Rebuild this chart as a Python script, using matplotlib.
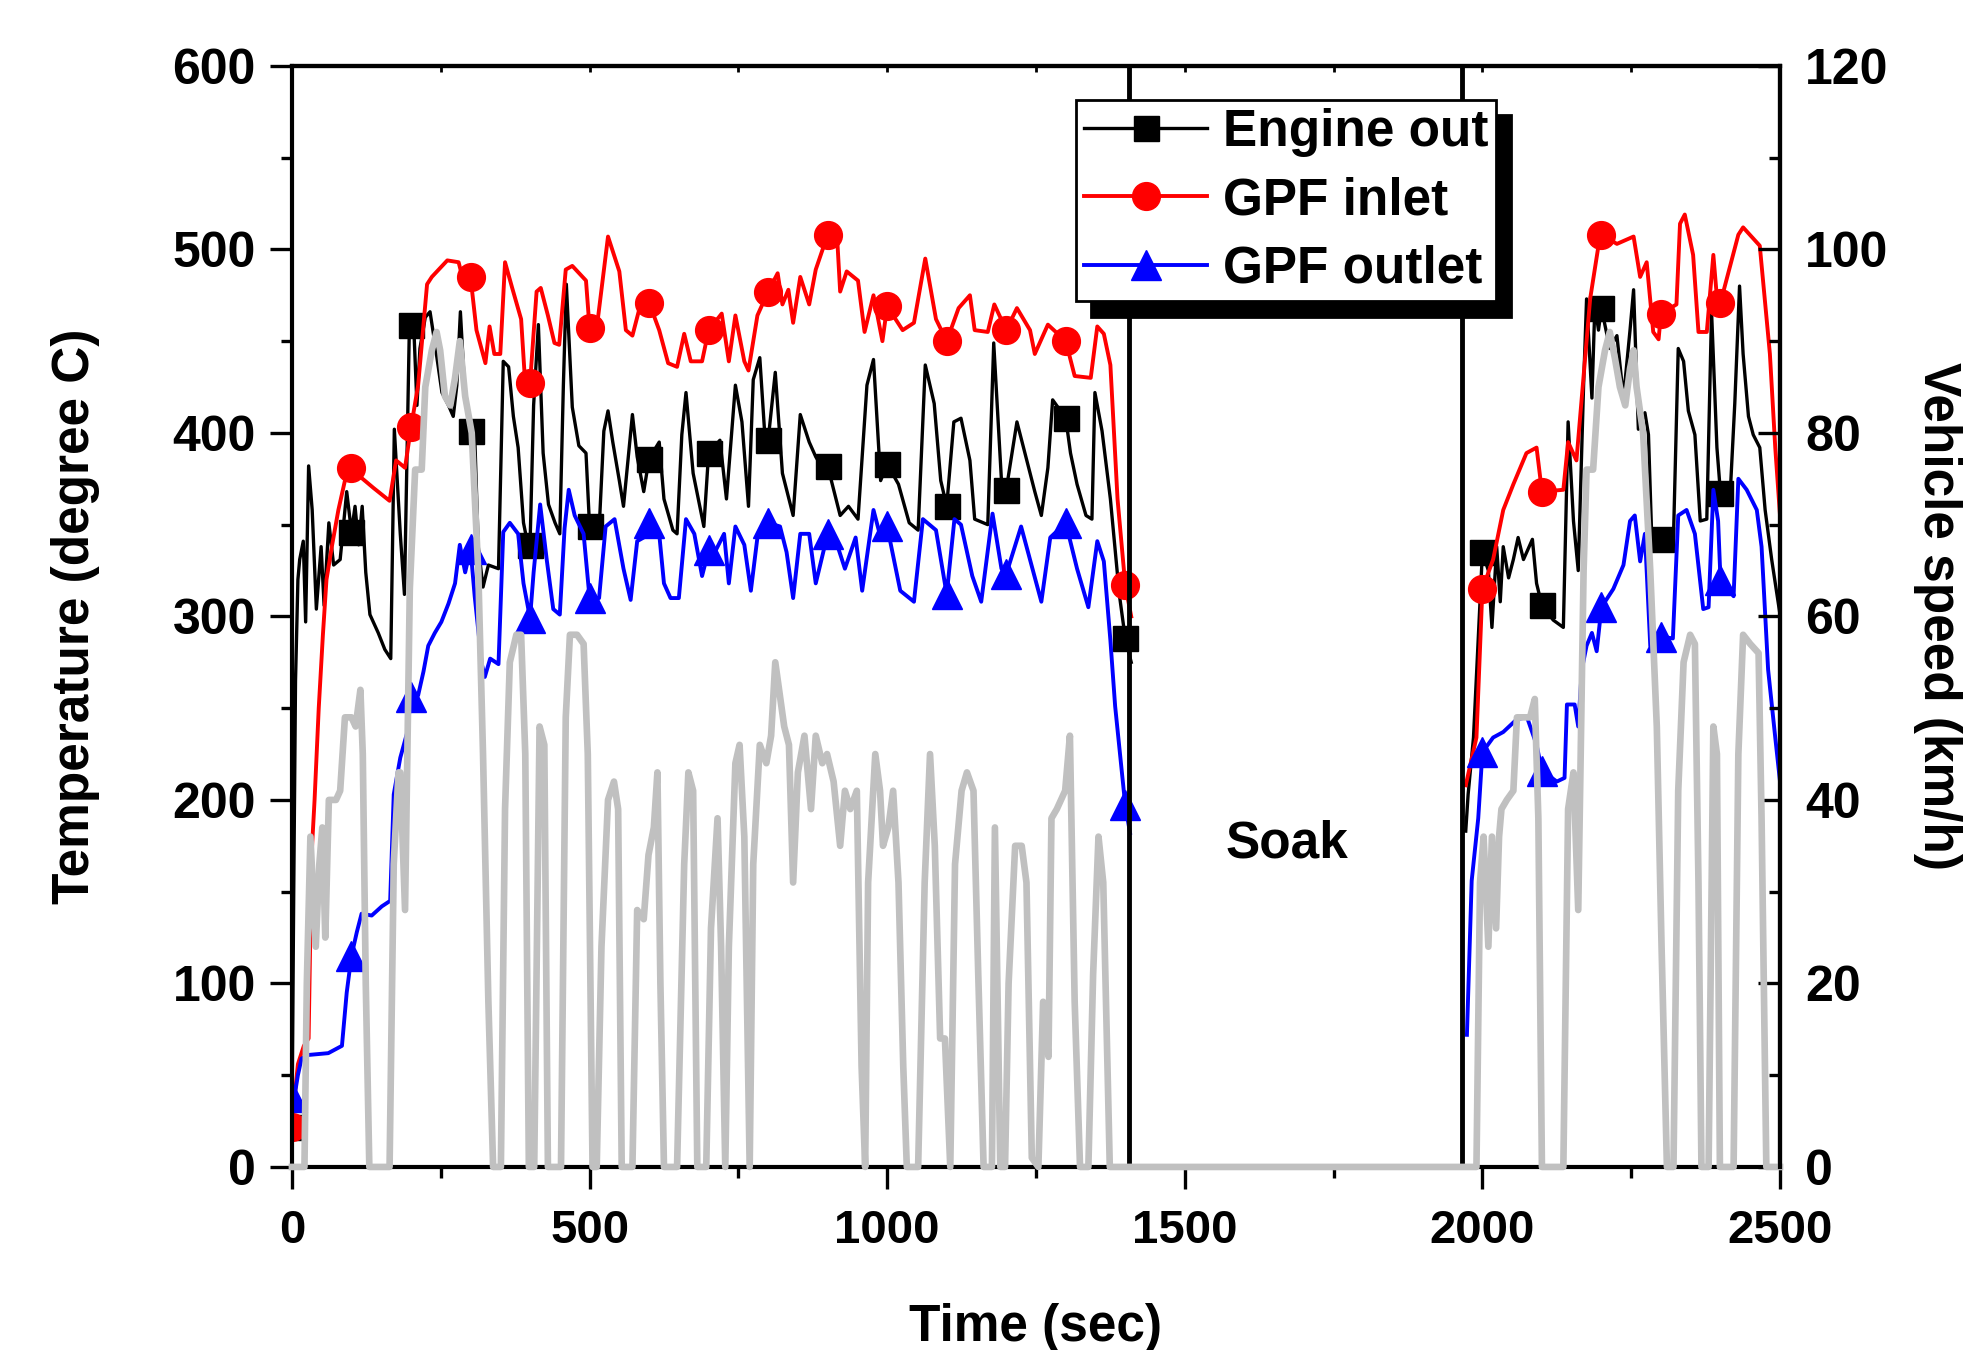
"""
GPF 온도 / 차속 (FTP-75) 재현
"""
import numpy as np
import matplotlib
matplotlib.use("Agg")
import matplotlib.pyplot as plt
from matplotlib.lines import Line2D
from matplotlib.ticker import MultipleLocator

plt.rcParams["font.family"] = ["Liberation Sans", "DejaVu Sans"]
plt.rcParams["font.weight"] = "bold"
plt.rcParams["axes.labelweight"] = "bold"

nan = np.nan

# ── 마커 위치 / soak 구간 ──────────────────────────────
MARK_TIMES = [0, 100, 200, 300, 400, 500, 600, 700, 800, 900, 1000, 1100,
              1200, 1300, 1400, 2000, 2100, 2200, 2300, 2400]
SOAK_START = 1407
SOAK_END = 1966
SOAK_LABEL_POS = (1672, 176)

# ── Engine out (degree C) ──────────────────────────────
engine_t = [0, 3, 6, 10, 13, 19, 23, 28, 34, 41, 49, 54, 62, 70, 81, 92, 100,
            106, 112, 118, 124, 131, 145, 156, 166, 172, 182, 189, 197, 200,
            204, 210, 215, 224, 232, 240, 252, 263, 271, 277, 283, 291, 300,
            307, 313, 321, 330, 347, 355, 364, 372, 380, 389, 397, 400, 406,
            414, 422, 431, 442, 450, 456, 461, 471, 482, 494, 500, 516, 524,
            531, 539, 550, 557, 572, 580, 591, 600, 617, 625, 640, 647, 655,
            662, 674, 692, 700, 719, 730, 745, 756, 767, 775, 786, 794, 800,
            812, 824, 842, 854, 869, 880, 891, 900, 921, 935, 951, 966, 977,
            989, 1000, 1019, 1037, 1052, 1064, 1079, 1090, 1100, 1112, 1124,
            1139, 1147, 1169, 1179, 1192, 1200, 1218, 1233, 1248, 1259, 1270,
            1278, 1300, 1308, 1319, 1334, 1344, 1349, 1361, 1375, 1390, 1400,
            1410, 1690, 1972, 1976, 1985, 2000, 2010, 2016, 2024, 2030, 2035,
            2044, 2052, 2060, 2069, 2084, 2091, 2100, 2119, 2136, 2144, 2153,
            2161, 2170, 2175, 2184, 2189, 2195, 2200, 2214, 2226, 2237, 2248,
            2254, 2262, 2273, 2279, 2284, 2296, 2300, 2321, 2329, 2338, 2346,
            2357, 2366, 2377, 2385, 2394, 2400, 2416, 2424, 2432, 2438, 2447,
            2455, 2466, 2475, 2486, 2500]
engine_T = [22, 150, 265, 320, 331, 341, 297, 382, 358, 304, 338, 306, 351,
            328, 331, 368, 346, 360, 339, 360, 324, 301, 291, 282, 277, 402,
            345, 312, 453, 459, 463, 415, 446, 463, 466, 449, 422, 415, 409,
            426, 466, 419, 401, 399, 338, 316, 328, 326, 439, 436, 409, 392,
            351, 338, 339, 415, 459, 389, 361, 351, 345, 426, 481, 414, 393,
            389, 349, 347, 401, 412, 395, 374, 360, 410, 387, 368, 386, 395,
            364, 347, 345, 399, 422, 378, 349, 389, 396, 364, 426, 406, 360,
            429, 441, 401, 396, 433, 378, 355, 410, 395, 387, 381, 382, 355,
            360, 353, 426, 440, 374, 383, 372, 351, 347, 437, 416, 374, 360,
            406, 408, 385, 353, 350, 449, 374, 369, 406, 387, 368, 355, 381,
            418, 408, 389, 372, 355, 353, 422, 401, 364, 312, 288, 275, nan,
            183, 203, 234, 335, 325, 294, 338, 308, 338, 321, 331, 343, 331,
            342, 318, 306, 298, 294, 406, 352, 325, 426, 473, 419, 470, 456,
            468, 446, 453, 419, 456, 478, 402, 411, 399, 348, 337, 342, 343,
            446, 439, 412, 399, 352, 353, 466, 392, 367, 365, 416, 480, 443,
            409, 399, 392, 358, 331, 301]

# ── GPF inlet (degree C) ───────────────────────────────
inlet_t = [0, 5, 10, 20, 28, 33, 38, 45, 52, 58, 67, 78, 89, 100, 115, 137,
           164, 175, 190, 200, 212, 227, 235, 261, 280, 291, 300, 310, 325,
           332, 340, 350, 358, 370, 385, 392, 400, 411, 418, 430, 441, 449,
           460, 471, 494, 500, 512, 531, 550, 561, 572, 584, 600, 617, 632,
           647, 659, 670, 689, 700, 722, 734, 745, 760, 767, 782, 800, 816,
           824, 834, 842, 854, 869, 880, 900, 916, 921, 932, 951, 962, 977,
           992, 1000, 1026, 1045, 1064, 1082, 1100, 1120, 1139, 1147, 1169,
           1180, 1200, 1218, 1240, 1248, 1270, 1300, 1315, 1342, 1353, 1364,
           1375, 1387, 1400, 1410, 1690, 1972, 1990, 2000, 2018, 2035, 2052,
           2074, 2091, 2100, 2136, 2144, 2158, 2181, 2195, 2200, 2226, 2254,
           2265, 2276, 2287, 2296, 2300, 2326, 2332, 2340, 2354, 2363, 2377,
           2388, 2396, 2400, 2430, 2438, 2466, 2475, 2483, 2492, 2500]
inlet_T = [22, 40, 56, 66, 70, 170, 200, 250, 290, 320, 338, 358, 374, 381,
           376, 370, 363, 385, 381, 403, 426, 481, 485, 494, 493, 479, 485,
           456, 438, 458, 443, 443, 493, 479, 462, 426, 427, 477, 479, 464,
           449, 448, 489, 491, 483, 457, 457, 507, 488, 456, 453, 468, 471,
           456, 438, 436, 454, 439, 439, 456, 465, 439, 464, 439, 434, 464,
           477, 487, 470, 478, 460, 485, 470, 489, 508, 506, 477, 488, 483,
           455, 475, 450, 469, 456, 460, 495, 462, 450, 468, 475, 456, 455,
           470, 456, 468, 456, 443, 459, 450, 431, 430, 458, 454, 437, 364,
           317, 300, nan, 208, 234, 315, 331, 358, 372, 389, 392, 368, 369,
           395, 385, 473, 502, 508, 503, 507, 485, 493, 455, 451, 465, 470,
           514, 519, 497, 455, 455, 497, 466, 471, 508, 512, 502, 471, 443,
           392, 355]

# ── GPF outlet (degree C) ──────────────────────────────
outlet_t = [0, 5, 10, 16, 27, 61, 84, 92, 100, 109, 117, 134, 151, 165, 171,
            182, 193, 200, 212, 221, 229, 240, 251, 263, 274, 282, 291, 300,
            307, 319, 324, 333, 347, 355, 366, 380, 389, 400, 406, 417, 428,
            439, 450, 458, 465, 475, 490, 500, 516, 527, 542, 557, 569, 580,
            591, 600, 617, 625, 636, 650, 662, 676, 689, 700, 712, 726, 734,
            745, 760, 771, 782, 800, 820, 831, 842, 854, 869, 880, 900, 913,
            929, 947, 958, 977, 989, 1000, 1022, 1045, 1060, 1082, 1100, 1113,
            1124, 1143, 1158, 1177, 1192, 1200, 1225, 1244, 1259, 1274, 1300,
            1319, 1338, 1353, 1364, 1375, 1383, 1400, 1408, 1690, 1974, 1982,
            1993, 2000, 2018, 2035, 2058, 2075, 2091, 2100, 2125, 2138, 2142,
            2155, 2161, 2167, 2175, 2184, 2192, 2200, 2220, 2237, 2248, 2256,
            2265, 2273, 2282, 2293, 2300, 2320, 2329, 2343, 2357, 2371, 2380,
            2388, 2396, 2400, 2422, 2430, 2444, 2461, 2469, 2480, 2492, 2500]
outlet_T = [38, 40, 50, 59, 61, 62, 66, 95, 115, 128, 138, 137, 142, 145, 203,
            223, 236, 256, 257, 270, 284, 291, 297, 307, 318, 339, 324, 337,
            311, 274, 267, 277, 274, 346, 351, 345, 318, 299, 324, 361, 331,
            304, 301, 348, 369, 355, 345, 310, 310, 349, 353, 326, 309, 341,
            343, 351, 345, 318, 310, 310, 353, 345, 322, 336, 336, 345, 318,
            349, 339, 314, 343, 351, 349, 335, 310, 345, 345, 318, 345, 342,
            326, 343, 314, 358, 343, 349, 314, 308, 353, 347, 312, 353, 350,
            322, 308, 356, 326, 323, 349, 326, 308, 343, 351, 326, 305, 341,
            330, 287, 251, 197, 182, nan, 72, 156, 190, 226, 234, 237, 244,
            245, 230, 216, 210, 212, 252, 252, 240, 271, 284, 291, 281, 305,
            315, 328, 352, 355, 330, 345, 284, 281, 289, 288, 355, 358, 345,
            304, 305, 369, 352, 320, 311, 375, 369, 358, 338, 271, 234, 210]

# ── Vehicle speed (km/h) ───────────────────────────────
speed_t = [0, 21, 25, 31, 40, 46, 51, 56, 62, 74, 81, 89, 100, 107, 115, 119,
           124, 130, 164, 171, 179, 182, 190, 198, 207, 218, 224, 235, 243,
           249, 257, 266, 274, 282, 291, 302, 313, 321, 330, 338, 351, 358,
           366, 377, 385, 392, 398, 407, 416, 424, 430, 452, 460, 467, 479,
           490, 497, 505, 512, 520, 531, 541, 548, 554, 572, 580, 591, 599,
           608, 614, 619, 625, 647, 659, 666, 674, 681, 696, 704, 715, 721,
           728, 734, 745, 752, 760, 769, 775, 786, 797, 805, 812, 827, 835,
           842, 850, 861, 872, 880, 891, 899, 910, 921, 929, 938, 949, 957,
           963, 968, 980, 988, 993, 1002, 1010, 1019, 1027, 1033, 1052, 1063,
           1072, 1080, 1089, 1097, 1106, 1114, 1125, 1134, 1145, 1153, 1162,
           1176, 1181, 1190, 1198, 1204, 1215, 1226, 1234, 1243, 1254, 1262,
           1271, 1276, 1285, 1299, 1307, 1315, 1324, 1338, 1346, 1355, 1363,
           1369, 1374, 1990, 1996, 2002, 2010, 2016, 2023, 2028, 2032, 2041,
           2052, 2058, 2066, 2080, 2088, 2094, 2100, 2136, 2144, 2153, 2161,
           2170, 2175, 2186, 2195, 2206, 2214, 2223, 2231, 2240, 2248, 2254,
           2259, 2270, 2282, 2293, 2301, 2310, 2321, 2329, 2338, 2349, 2357,
           2363, 2368, 2380, 2388, 2394, 2399, 2422, 2430, 2438, 2450, 2464,
           2469, 2477, 2500]
speed_v = [0, 0, 20, 36, 24, 33, 37, 25, 40, 40, 41, 49, 49, 48, 52, 45, 20,
           0, 0, 33, 43, 43, 28, 63, 76, 76, 85, 89, 91, 89, 84, 83, 86, 90,
           84, 80, 65, 45, 18, 0, 0, 39, 55, 58, 58, 45, 0, 0, 48, 46, 0, 0,
           49, 58, 58, 57, 45, 0, 0, 24, 40, 42, 39, 0, 0, 28, 27, 34, 37, 43,
           20, 0, 0, 33, 43, 41, 0, 0, 26, 38, 24, 0, 24, 44, 46, 36, 0, 33,
           46, 44, 47, 55, 48, 46, 31, 43, 47, 39, 47, 44, 45, 42, 35, 41, 39,
           41, 11, 0, 31, 45, 41, 35, 37, 41, 31, 11, 0, 0, 31, 45, 35, 14, 14,
           0, 33, 41, 43, 41, 21, 0, 0, 37, 0, 0, 20, 35, 35, 31, 1, 0, 18, 12,
           38, 39, 41, 47, 18, 0, 0, 21, 36, 31, 14, 0, 0, 31, 36, 24, 36, 26,
           36, 39, 40, 41, 49, 49, 49, 51, 38, 0, 0, 39, 43, 28, 65, 76, 76,
           85, 89, 91, 88, 85, 83, 87, 89, 85, 80, 65, 48, 24, 0, 0, 41, 55,
           58, 57, 31, 0, 0, 48, 45, 0, 0, 45, 58, 57, 56, 38, 0, 0]

SERIES_LABELS = ["Engine out", "GPF inlet", "GPF outlet"]


def marks(t):
    """MARK_TIMES 에 해당하는 인덱스"""
    return list(np.flatnonzero(np.isin(t, MARK_TIMES)))


fig = plt.figure(figsize=(19.66, 13.5), dpi=100)
ax = fig.add_axes([0.1485, 0.1356, 0.7569, 0.8156])
ax2 = ax.twinx()

STYLE = {
    "engine": dict(color="black", lw=2.4, marker="s", ms=18),
    "inlet":  dict(color="red",   lw=2.8, marker="o", ms=20),
    "outlet": dict(color="blue",  lw=2.8, marker="^", ms=21),
}
ax.plot(engine_t, engine_T, markevery=marks(engine_t), **STYLE["engine"])
ax.plot(inlet_t, inlet_T, markevery=marks(inlet_t), **STYLE["inlet"])
ax.plot(outlet_t, outlet_T, markevery=marks(outlet_t), **STYLE["outlet"])
ax.axvline(SOAK_START, color="black", lw=3.5)
ax.axvline(SOAK_END, color="black", lw=3.5)
ax.text(*SOAK_LABEL_POS, "Soak", fontsize=37, ha="center", va="center")

ax2.plot(speed_t, speed_v, color="#c0c0c0", lw=4.8, clip_on=False)

# ── 축 설정 ─────────────────────────────────────────
ax.set_xlim(0, 2500)
ax.set_ylim(0, 600)
ax2.set_ylim(0, 120)
ax.xaxis.set_major_locator(MultipleLocator(500))
ax.xaxis.set_minor_locator(MultipleLocator(250))
ax.yaxis.set_major_locator(MultipleLocator(100))
ax.yaxis.set_minor_locator(MultipleLocator(50))
ax2.yaxis.set_major_locator(MultipleLocator(20))
ax2.yaxis.set_minor_locator(MultipleLocator(10))

for s in ax.spines.values():
    s.set_linewidth(3)
for name in ["bottom", "left", "top"]:
    ax2.spines[name].set_visible(False)
ax2.spines["right"].set_linewidth(3)

ax.tick_params(which="major", direction="out", length=16, width=2.4, right=False)
ax.tick_params(which="minor", direction="out", length=8, width=2.4, right=False)
ax.tick_params(axis="y", labelsize=36, pad=10)
ax.tick_params(axis="x", labelsize=34, pad=14)
ax2.tick_params(which="major", direction="in", length=16, width=2.4,
                labelsize=36, pad=18)
ax2.tick_params(which="minor", direction="in", length=8, width=2.4)

top = ax.secondary_xaxis("top")
top.set_xticks(np.arange(0, 2501, 250))
top.tick_params(direction="in", length=4, width=2, labeltop=False)
top.spines["top"].set_linewidth(3)

ax.set_xlabel("Time (sec)", fontsize=37, labelpad=36)
ax.set_ylabel("Temperature (degree C)", fontsize=37, labelpad=52)
ax2.set_ylabel("Vehicle speed (km/h)", fontsize=37, rotation=-90,
               va="bottom", labelpad=18)

# ── 범례 ───────────────────────────────────────────
handles = [Line2D([], [], **STYLE[k]) for k in ["engine", "inlet", "outlet"]]
leg = ax2.legend(handles, SERIES_LABELS, loc="upper left",
                 bbox_to_anchor=(0.527, 0.969), borderaxespad=0,
                 fontsize=37, fancybox=False, edgecolor="black",
                 framealpha=1, handlelength=2.4, handletextpad=0.3,
                 labelspacing=0.38, borderpad=0.15,
                 shadow={"ox": 11, "oy": -11, "facecolor": "black",
                         "edgecolor": "black", "alpha": 1})
leg.get_frame().set_linewidth(2)

fig.savefig("out.png", dpi=100)
